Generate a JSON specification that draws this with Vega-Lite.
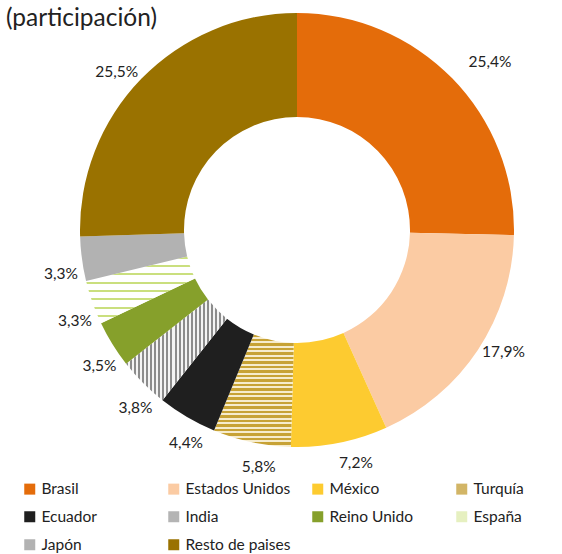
{
  "$schema": "https://vega.github.io/schema/vega-lite/v6.json",
  "width": 530,
  "height": 400,
  "autosize": "none",
  "padding": {"left": 32, "top": 30, "right": 0, "bottom": 124},
  "background": "white",
  "title": {"text": "(participación)", "anchor": "start", "frame": "group", "dx": -26, "dy": 22, "offset": 4, "fontSize": 24.5, "font": "Lato", "fontWeight": "normal", "color": "#222222"},
  "data": {
    "values": [
      {"pais": "Brasil", "valor": 25.4, "etiqueta": "25,4%", "orden": 1},
      {"pais": "Estados Unidos", "valor": 17.9, "etiqueta": "17,9%", "orden": 2},
      {"pais": "México", "valor": 7.2, "etiqueta": "7,2%", "orden": 3},
      {"pais": "Turquía", "valor": 5.8, "etiqueta": "5,8%", "orden": 4},
      {"pais": "Ecuador", "valor": 4.4, "etiqueta": "4,4%", "orden": 5},
      {"pais": "India", "valor": 3.8, "etiqueta": "3,8%", "orden": 6},
      {"pais": "Reino Unido", "valor": 3.5, "etiqueta": "3,5%", "orden": 7},
      {"pais": "España", "valor": 3.3, "etiqueta": "3,3%", "orden": 8},
      {"pais": "Japón", "valor": 3.3, "etiqueta": "3,3%", "orden": 9},
      {"pais": "Resto de paises", "valor": 25.5, "etiqueta": "25,5%", "orden": 10}
    ]
  },
  "encoding": {
    "theta": {"field": "valor", "type": "quantitative", "stack": true},
    "order": {"field": "orden", "type": "quantitative"}
  },
  "layer": [
    {
      "mark": {"type": "arc", "outerRadius": 217, "innerRadius": 113},
      "encoding": {
        "color": {
          "field": "pais",
          "type": "nominal",
          "condition": [
            {"test": "datum.pais === 'Turquía'", "value": {"gradient": "linear", "x1": 0, "y1": 0, "x2": 0, "y2": 1, "stops": [
              {"offset": 0, "color": "#C7A235"}, {"offset": 0.02, "color": "#C7A235"}, {"offset": 0.02, "color": "#F6ECCD"}, {"offset": 0.04, "color": "#F6ECCD"},
              {"offset": 0.04, "color": "#C7A235"}, {"offset": 0.06, "color": "#C7A235"}, {"offset": 0.06, "color": "#F6ECCD"}, {"offset": 0.08, "color": "#F6ECCD"},
              {"offset": 0.08, "color": "#C7A235"}, {"offset": 0.1, "color": "#C7A235"}, {"offset": 0.1, "color": "#F6ECCD"}, {"offset": 0.12, "color": "#F6ECCD"},
              {"offset": 0.12, "color": "#C7A235"}, {"offset": 0.14, "color": "#C7A235"}, {"offset": 0.14, "color": "#F6ECCD"}, {"offset": 0.16, "color": "#F6ECCD"},
              {"offset": 0.16, "color": "#C7A235"}, {"offset": 0.18, "color": "#C7A235"}, {"offset": 0.18, "color": "#F6ECCD"}, {"offset": 0.2, "color": "#F6ECCD"},
              {"offset": 0.2, "color": "#C7A235"}, {"offset": 0.22, "color": "#C7A235"}, {"offset": 0.22, "color": "#F6ECCD"}, {"offset": 0.24, "color": "#F6ECCD"},
              {"offset": 0.24, "color": "#C7A235"}, {"offset": 0.26, "color": "#C7A235"}, {"offset": 0.26, "color": "#F6ECCD"}, {"offset": 0.28, "color": "#F6ECCD"},
              {"offset": 0.28, "color": "#C7A235"}, {"offset": 0.3, "color": "#C7A235"}, {"offset": 0.3, "color": "#F6ECCD"}, {"offset": 0.32, "color": "#F6ECCD"},
              {"offset": 0.32, "color": "#C7A235"}, {"offset": 0.34, "color": "#C7A235"}, {"offset": 0.34, "color": "#F6ECCD"}, {"offset": 0.36, "color": "#F6ECCD"},
              {"offset": 0.36, "color": "#C7A235"}, {"offset": 0.38, "color": "#C7A235"}, {"offset": 0.38, "color": "#F6ECCD"}, {"offset": 0.4, "color": "#F6ECCD"},
              {"offset": 0.4, "color": "#C7A235"}, {"offset": 0.42, "color": "#C7A235"}, {"offset": 0.42, "color": "#F6ECCD"}, {"offset": 0.44, "color": "#F6ECCD"},
              {"offset": 0.44, "color": "#C7A235"}, {"offset": 0.46, "color": "#C7A235"}, {"offset": 0.46, "color": "#F6ECCD"}, {"offset": 0.48, "color": "#F6ECCD"},
              {"offset": 0.48, "color": "#C7A235"}, {"offset": 0.5, "color": "#C7A235"}, {"offset": 0.5, "color": "#F6ECCD"}, {"offset": 0.52, "color": "#F6ECCD"},
              {"offset": 0.52, "color": "#C7A235"}, {"offset": 0.54, "color": "#C7A235"}, {"offset": 0.54, "color": "#F6ECCD"}, {"offset": 0.56, "color": "#F6ECCD"},
              {"offset": 0.56, "color": "#C7A235"}, {"offset": 0.58, "color": "#C7A235"}, {"offset": 0.58, "color": "#F6ECCD"}, {"offset": 0.6, "color": "#F6ECCD"},
              {"offset": 0.6, "color": "#C7A235"}, {"offset": 0.62, "color": "#C7A235"}, {"offset": 0.62, "color": "#F6ECCD"}, {"offset": 0.64, "color": "#F6ECCD"},
              {"offset": 0.64, "color": "#C7A235"}, {"offset": 0.66, "color": "#C7A235"}, {"offset": 0.66, "color": "#F6ECCD"}, {"offset": 0.68, "color": "#F6ECCD"},
              {"offset": 0.68, "color": "#C7A235"}, {"offset": 0.7, "color": "#C7A235"}, {"offset": 0.7, "color": "#F6ECCD"}, {"offset": 0.72, "color": "#F6ECCD"},
              {"offset": 0.72, "color": "#C7A235"}, {"offset": 0.74, "color": "#C7A235"}, {"offset": 0.74, "color": "#F6ECCD"}, {"offset": 0.76, "color": "#F6ECCD"},
              {"offset": 0.76, "color": "#C7A235"}, {"offset": 0.78, "color": "#C7A235"}, {"offset": 0.78, "color": "#F6ECCD"}, {"offset": 0.8, "color": "#F6ECCD"},
              {"offset": 0.8, "color": "#C7A235"}, {"offset": 0.82, "color": "#C7A235"}, {"offset": 0.82, "color": "#F6ECCD"}, {"offset": 0.84, "color": "#F6ECCD"},
              {"offset": 0.84, "color": "#C7A235"}, {"offset": 0.86, "color": "#C7A235"}, {"offset": 0.86, "color": "#F6ECCD"}, {"offset": 0.88, "color": "#F6ECCD"},
              {"offset": 0.88, "color": "#C7A235"}, {"offset": 0.9, "color": "#C7A235"}, {"offset": 0.9, "color": "#F6ECCD"}, {"offset": 0.92, "color": "#F6ECCD"},
              {"offset": 0.92, "color": "#C7A235"}, {"offset": 0.94, "color": "#C7A235"}, {"offset": 0.94, "color": "#F6ECCD"}, {"offset": 0.96, "color": "#F6ECCD"},
              {"offset": 0.96, "color": "#C7A235"}, {"offset": 0.98, "color": "#C7A235"}, {"offset": 0.98, "color": "#F6ECCD"}, {"offset": 1, "color": "#F6ECCD"}
            ]}},
            {"test": "datum.pais === 'India'", "value": {"gradient": "linear", "x1": 0, "y1": 0, "x2": 1, "y2": 0, "stops": [
              {"offset": 0, "color": "#8C8C8C"}, {"offset": 0.02, "color": "#8C8C8C"}, {"offset": 0.02, "color": "#F4F4F4"}, {"offset": 0.04, "color": "#F4F4F4"},
              {"offset": 0.04, "color": "#8C8C8C"}, {"offset": 0.06, "color": "#8C8C8C"}, {"offset": 0.06, "color": "#F4F4F4"}, {"offset": 0.08, "color": "#F4F4F4"},
              {"offset": 0.08, "color": "#8C8C8C"}, {"offset": 0.1, "color": "#8C8C8C"}, {"offset": 0.1, "color": "#F4F4F4"}, {"offset": 0.12, "color": "#F4F4F4"},
              {"offset": 0.12, "color": "#8C8C8C"}, {"offset": 0.14, "color": "#8C8C8C"}, {"offset": 0.14, "color": "#F4F4F4"}, {"offset": 0.16, "color": "#F4F4F4"},
              {"offset": 0.16, "color": "#8C8C8C"}, {"offset": 0.18, "color": "#8C8C8C"}, {"offset": 0.18, "color": "#F4F4F4"}, {"offset": 0.2, "color": "#F4F4F4"},
              {"offset": 0.2, "color": "#8C8C8C"}, {"offset": 0.22, "color": "#8C8C8C"}, {"offset": 0.22, "color": "#F4F4F4"}, {"offset": 0.24, "color": "#F4F4F4"},
              {"offset": 0.24, "color": "#8C8C8C"}, {"offset": 0.26, "color": "#8C8C8C"}, {"offset": 0.26, "color": "#F4F4F4"}, {"offset": 0.28, "color": "#F4F4F4"},
              {"offset": 0.28, "color": "#8C8C8C"}, {"offset": 0.3, "color": "#8C8C8C"}, {"offset": 0.3, "color": "#F4F4F4"}, {"offset": 0.32, "color": "#F4F4F4"},
              {"offset": 0.32, "color": "#8C8C8C"}, {"offset": 0.34, "color": "#8C8C8C"}, {"offset": 0.34, "color": "#F4F4F4"}, {"offset": 0.36, "color": "#F4F4F4"},
              {"offset": 0.36, "color": "#8C8C8C"}, {"offset": 0.38, "color": "#8C8C8C"}, {"offset": 0.38, "color": "#F4F4F4"}, {"offset": 0.4, "color": "#F4F4F4"},
              {"offset": 0.4, "color": "#8C8C8C"}, {"offset": 0.42, "color": "#8C8C8C"}, {"offset": 0.42, "color": "#F4F4F4"}, {"offset": 0.44, "color": "#F4F4F4"},
              {"offset": 0.44, "color": "#8C8C8C"}, {"offset": 0.46, "color": "#8C8C8C"}, {"offset": 0.46, "color": "#F4F4F4"}, {"offset": 0.48, "color": "#F4F4F4"},
              {"offset": 0.48, "color": "#8C8C8C"}, {"offset": 0.5, "color": "#8C8C8C"}, {"offset": 0.5, "color": "#F4F4F4"}, {"offset": 0.52, "color": "#F4F4F4"},
              {"offset": 0.52, "color": "#8C8C8C"}, {"offset": 0.54, "color": "#8C8C8C"}, {"offset": 0.54, "color": "#F4F4F4"}, {"offset": 0.56, "color": "#F4F4F4"},
              {"offset": 0.56, "color": "#8C8C8C"}, {"offset": 0.58, "color": "#8C8C8C"}, {"offset": 0.58, "color": "#F4F4F4"}, {"offset": 0.6, "color": "#F4F4F4"},
              {"offset": 0.6, "color": "#8C8C8C"}, {"offset": 0.62, "color": "#8C8C8C"}, {"offset": 0.62, "color": "#F4F4F4"}, {"offset": 0.64, "color": "#F4F4F4"},
              {"offset": 0.64, "color": "#8C8C8C"}, {"offset": 0.66, "color": "#8C8C8C"}, {"offset": 0.66, "color": "#F4F4F4"}, {"offset": 0.68, "color": "#F4F4F4"},
              {"offset": 0.68, "color": "#8C8C8C"}, {"offset": 0.7, "color": "#8C8C8C"}, {"offset": 0.7, "color": "#F4F4F4"}, {"offset": 0.72, "color": "#F4F4F4"},
              {"offset": 0.72, "color": "#8C8C8C"}, {"offset": 0.74, "color": "#8C8C8C"}, {"offset": 0.74, "color": "#F4F4F4"}, {"offset": 0.76, "color": "#F4F4F4"},
              {"offset": 0.76, "color": "#8C8C8C"}, {"offset": 0.78, "color": "#8C8C8C"}, {"offset": 0.78, "color": "#F4F4F4"}, {"offset": 0.8, "color": "#F4F4F4"},
              {"offset": 0.8, "color": "#8C8C8C"}, {"offset": 0.82, "color": "#8C8C8C"}, {"offset": 0.82, "color": "#F4F4F4"}, {"offset": 0.84, "color": "#F4F4F4"},
              {"offset": 0.84, "color": "#8C8C8C"}, {"offset": 0.86, "color": "#8C8C8C"}, {"offset": 0.86, "color": "#F4F4F4"}, {"offset": 0.88, "color": "#F4F4F4"},
              {"offset": 0.88, "color": "#8C8C8C"}, {"offset": 0.9, "color": "#8C8C8C"}, {"offset": 0.9, "color": "#F4F4F4"}, {"offset": 0.92, "color": "#F4F4F4"},
              {"offset": 0.92, "color": "#8C8C8C"}, {"offset": 0.94, "color": "#8C8C8C"}, {"offset": 0.94, "color": "#F4F4F4"}, {"offset": 0.96, "color": "#F4F4F4"},
              {"offset": 0.96, "color": "#8C8C8C"}, {"offset": 0.98, "color": "#8C8C8C"}, {"offset": 0.98, "color": "#F4F4F4"}, {"offset": 1, "color": "#F4F4F4"}
            ]}},
            {"test": "datum.pais === 'España'", "value": {"gradient": "linear", "x1": 0, "y1": 0, "x2": 0, "y2": 1, "stops": [
              {"offset": 0, "color": "#CADF7E"}, {"offset": 0.03, "color": "#CADF7E"}, {"offset": 0.03, "color": "#FFFFFF"}, {"offset": 0.125, "color": "#FFFFFF"},
              {"offset": 0.125, "color": "#CADF7E"}, {"offset": 0.155, "color": "#CADF7E"}, {"offset": 0.155, "color": "#FFFFFF"}, {"offset": 0.25, "color": "#FFFFFF"},
              {"offset": 0.25, "color": "#CADF7E"}, {"offset": 0.28, "color": "#CADF7E"}, {"offset": 0.28, "color": "#FFFFFF"}, {"offset": 0.375, "color": "#FFFFFF"},
              {"offset": 0.375, "color": "#CADF7E"}, {"offset": 0.405, "color": "#CADF7E"}, {"offset": 0.405, "color": "#FFFFFF"}, {"offset": 0.5, "color": "#FFFFFF"},
              {"offset": 0.5, "color": "#CADF7E"}, {"offset": 0.53, "color": "#CADF7E"}, {"offset": 0.53, "color": "#FFFFFF"}, {"offset": 0.625, "color": "#FFFFFF"},
              {"offset": 0.625, "color": "#CADF7E"}, {"offset": 0.655, "color": "#CADF7E"}, {"offset": 0.655, "color": "#FFFFFF"}, {"offset": 0.75, "color": "#FFFFFF"},
              {"offset": 0.75, "color": "#CADF7E"}, {"offset": 0.78, "color": "#CADF7E"}, {"offset": 0.78, "color": "#FFFFFF"}, {"offset": 0.875, "color": "#FFFFFF"},
              {"offset": 0.875, "color": "#CADF7E"}, {"offset": 0.905, "color": "#CADF7E"}, {"offset": 0.905, "color": "#FFFFFF"}, {"offset": 1, "color": "#FFFFFF"}
            ]}}
          ],
          "scale": {
            "domain": ["Brasil", "Estados Unidos", "México", "Turquía", "Ecuador", "India", "Reino Unido", "España", "Japón", "Resto de paises"],
            "range": ["#E46C0A", "#FBCBA3", "#FDCB30", "#D2B566", "#1F1F1F", "#B4B4B4", "#86A02B", "#E6F0C0", "#B2B2B2", "#9A7200"]
          },
          "legend": {
            "title": null,
            "orient": "none",
            "direction": "horizontal",
            "legendX": -10,
            "legendY": 451,
            "columns": 4,
            "gridAlign": "all",
            "columnPadding": 19,
            "rowPadding": 11,
            "padding": 0,
            "symbolType": "square",
            "symbolSize": 121,
            "symbolStrokeWidth": 0,
            "labelOffset": 4,
            "labelFontSize": 15.5,
            "labelFont": "Lato",
            "labelColor": "#222222"
          }
        }
      }
    },
    {
      "mark": {"type": "text", "radius": 240, "thetaOffset": -0.05, "fontSize": 15.5, "font": "Lato", "color": "#222222"},
      "encoding": {
        "text": {"field": "etiqueta", "type": "nominal", "condition": {"test": "datum.pais === 'Brasil'", "value": ""}},
        "detail": {"field": "pais", "type": "nominal"}
      }
    },
    {
      "mark": {"type": "text", "radius": 256, "thetaOffset": 0.057, "fontSize": 15.5, "font": "Lato", "color": "#222222"},
      "encoding": {
        "text": {"field": "etiqueta", "type": "nominal", "condition": {"test": "datum.pais !== 'Brasil'", "value": ""}},
        "detail": {"field": "pais", "type": "nominal"}
      }
    }
  ],
  "config": {"view": {"stroke": null}}
}
